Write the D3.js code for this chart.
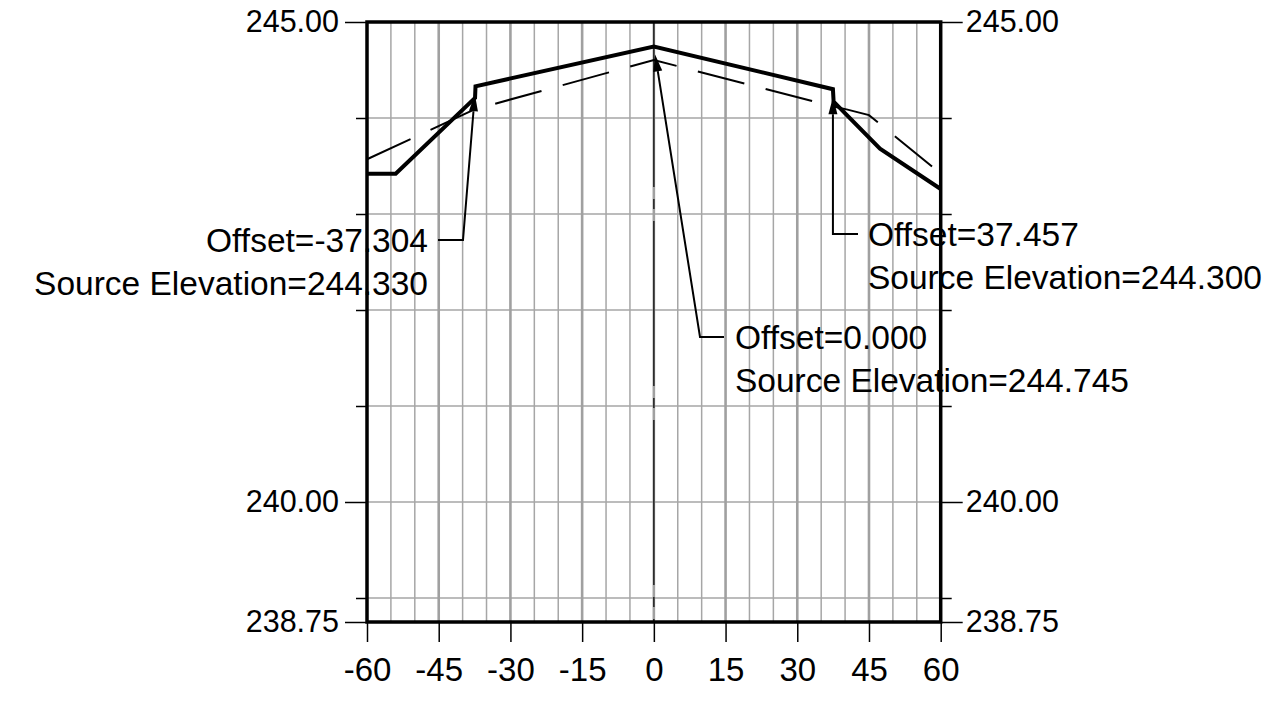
<!DOCTYPE html>
<html>
<head>
<meta charset="utf-8">
<script src="https://cdn.jsdelivr.net/npm/d3@7"></script>
<style>
  html, body { margin: 0; padding: 0; background: #fff; }
  svg { display: block; }
  text { font-family: "Liberation Sans", Arial, sans-serif; fill: #000; }
</style>
</head>
<body>
<svg id="chart" width="1267" height="705"></svg>
<script>
// ---- data ----
const xTickValues = [-60, -45, -30, -15, 0, 15, 30, 45, 60];
const xTickLabels = ["-60", "-45", "-30", "-15", "0", "15", "30", "45", "60"];
const xMinorGrid = [-55, -50, -40, -35, -25, -20, -10, -5, 5, 10, 20, 25, 35, 40, 50, 55];
const yLabeledTicks = [245, 240, 238.75];
const yTickLabels = ["245.00", "240.00", "238.75"];
const yMinorTicks = [244, 243, 242, 241, 239];

// thick solid profile
const solidOffsets = [-60, -54, -37.4, -37.304, 0, 37.457, 37.6, 47.3, 60];
const solidElev    = [243.42, 243.42, 244.21, 244.330, 244.745, 244.300, 244.17, 243.68, 243.26];
// thin dashed profile
const dashedOffsets = [-60, -37.5, 0, 37.5, 40.3, 45, 60];
const dashedElev    = [243.57, 244.09, 244.604, 244.12, 244.09, 244.03, 243.42];

// annotations
const annOffsets = [-37.304, 0.000, 37.457];
const annElev    = [244.330, 244.745, 244.300];

// ---- layout ----
const W = 1267, H = 705;
const plot = { left: 367, right: 940.7, top: 22, bottom: 622 };
const FONT = 33.5, YFONT = 30.5, XFONT = 33;

const svg = d3.select("#chart");
const x = d3.scaleLinear().domain([-60, 60]).range([plot.left, plot.right]);
const y = d3.scaleLinear().domain([238.75, 245]).range([plot.bottom, plot.top]);

// grid
const grid = svg.append("g");
grid.selectAll("line.hg").data(yMinorTicks.concat([240])).join("line")
  .attr("x1", plot.left).attr("x2", plot.right)
  .attr("y1", d => y(d)).attr("y2", d => y(d))
  .attr("stroke", "#a6a6a6").attr("stroke-width", 1.6);
grid.selectAll("line.vm").data(xMinorGrid).join("line")
  .attr("x1", d => x(d)).attr("x2", d => x(d))
  .attr("y1", plot.top).attr("y2", plot.bottom)
  .attr("stroke", "#a6a6a6").attr("stroke-width", 1.5);
grid.selectAll("line.vM").data(xTickValues.slice(1, -1)).join("line")
  .attr("x1", d => x(d)).attr("x2", d => x(d))
  .attr("y1", plot.top).attr("y2", plot.bottom)
  .attr("stroke", "#a0a0a0").attr("stroke-width", 2.6);

// centre line
svg.append("line")
  .attr("x1", x(0)).attr("x2", x(0)).attr("y1", plot.top).attr("y2", plot.bottom)
  .attr("stroke", "#222").attr("stroke-width", 1.5)
  .attr("stroke-dasharray", "165,12,10,12");

// axes (ticks)
const leftLong = d3.axisLeft(y).tickValues(yLabeledTicks).tickSize(22)
  .tickFormat((d, i) => yTickLabels[i]).tickPadding(6);
const leftShort = d3.axisLeft(y).tickValues(yMinorTicks).tickSize(11).tickFormat("");
const rightLong = d3.axisRight(y).tickValues(yLabeledTicks).tickSize(22)
  .tickFormat((d, i) => yTickLabels[i]).tickPadding(3);
const rightShort = d3.axisRight(y).tickValues(yMinorTicks).tickSize(11).tickFormat("");
const bottom = d3.axisBottom(x).tickValues(xTickValues).tickSize(20)
  .tickFormat((d, i) => xTickLabels[i]).tickPadding(16);

function styleAxis(g, fs) {
  g.select(".domain").remove();
  g.selectAll(".tick line").attr("stroke", "#000").attr("stroke-width", 1.5);
  g.selectAll(".tick text").attr("font-size", fs)
    .attr("font-family", "'Liberation Sans', Arial, sans-serif").attr("fill", "#000");
}
svg.append("g").attr("transform", `translate(${plot.left},0)`).call(leftLong).call(styleAxis, YFONT);
svg.append("g").attr("transform", `translate(${plot.left},0)`).call(leftShort).call(styleAxis, YFONT);
svg.append("g").attr("transform", `translate(${plot.right},0)`).call(rightLong).call(styleAxis, YFONT);
svg.append("g").attr("transform", `translate(${plot.right},0)`).call(rightShort).call(styleAxis, YFONT);
svg.append("g").attr("transform", `translate(0,${plot.bottom})`).call(bottom).call(styleAxis, XFONT);

// profiles
const line = d3.line().x(d => x(d[0])).y(d => y(d[1]));
svg.append("path")
  .datum(dashedOffsets.map((o, i) => [o, dashedElev[i]]))
  .attr("d", line).attr("fill", "none").attr("stroke", "#000")
  .attr("stroke-width", 2).attr("stroke-dasharray", "48,22");
svg.append("path")
  .datum(solidOffsets.map((o, i) => [o, solidElev[i]]))
  .attr("d", line).attr("fill", "none").attr("stroke", "#000")
  .attr("stroke-width", 4).attr("stroke-linejoin", "miter");

// border
svg.append("rect")
  .attr("x", plot.left).attr("y", plot.top)
  .attr("width", plot.right - plot.left).attr("height", plot.bottom - plot.top)
  .attr("fill", "none").attr("stroke", "#000").attr("stroke-width", 3.5);

// annotations: layout per label (elbow point, leader end, text anchor)
const annLayout = [
  { ey: 240, lx: 438, anchor: "end",   tx: 428, ty: 252 },
  { ey: 337, lx: 724, anchor: "start", tx: 735, ty: 349 },
  { ey: 234, lx: 858, anchor: "start", tx: 868, ty: 246 }
];
const elbowX = [463, 700, null];
const lineGap = 43;
annOffsets.forEach((off, i) => {
  const L = annLayout[i];
  const px = x(off), py = y(annElev[i]);
  const ex = elbowX[i] === null ? px : elbowX[i];
  const ey = L.ey;
  const dx = px - ex, dy = py - ey, len = Math.hypot(dx, dy);
  const ux = dx / len, uy = dy / len;
  const tipX = px - ux * 8, tipY = py - uy * 8;
  const aLen = 17, aW = 4.5;
  const bx = tipX - ux * aLen, by = tipY - uy * aLen;
  const g = svg.append("g");
  g.append("polyline")
    .attr("points", `${L.lx},${ey} ${ex},${ey} ${bx},${by}`)
    .attr("fill", "none").attr("stroke", "#000").attr("stroke-width", 2);
  g.append("polygon")
    .attr("points", `${tipX},${tipY} ${bx - uy * aW},${by + ux * aW} ${bx + uy * aW},${by - ux * aW}`)
    .attr("fill", "#000");
  const t = g.append("text").attr("font-size", FONT).attr("text-anchor", L.anchor);
  t.append("tspan").attr("x", L.tx).attr("y", L.ty).text("Offset=" + off.toFixed(3));
  t.append("tspan").attr("x", L.tx).attr("y", L.ty + lineGap).text("Source Elevation=" + annElev[i].toFixed(3));
});
</script>
</body>
</html>
